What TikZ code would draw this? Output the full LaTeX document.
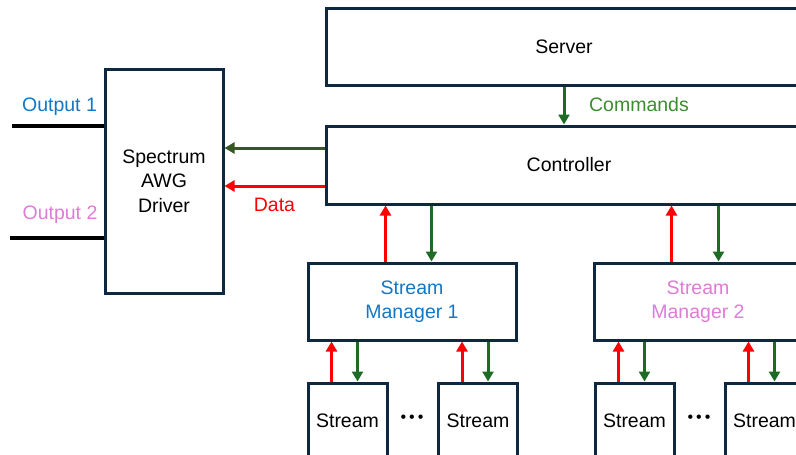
\documentclass[tikz,border=0pt]{standalone}
\usepackage{fontspec}
\setmainfont{Liberation Sans}
\usetikzlibrary{arrows.meta,calc}
\definecolor{boxc}{HTML}{0E2841}
\definecolor{dgreen}{HTML}{1E6B26}
\definecolor{olive}{HTML}{375623}
\definecolor{cmdgreen}{HTML}{3C8D2F}
\definecolor{myblue}{HTML}{1277C6}
\definecolor{mypink}{HTML}{E07BD6}
\definecolor{myred}{HTML}{FF0000}
\tikzset{
  box/.style={draw=boxc, line width=3pt, fill=white, inner sep=0pt, align=center,
    font=\fontsize{19.5}{24.5}\selectfont},
  lbl/.style={inner sep=0pt, font=\fontsize{19.5}{24.5}\selectfont},
  upar/.style={draw=myred, line width=3pt, -{Triangle[length=10pt,width=11pt]}},
  dnar/.style={draw=dgreen, line width=3pt, -{Triangle[length=10pt,width=11pt]}},
  outl/.style={draw=black, line width=3.2pt},
  dots/.style={inner sep=0pt, font=\fontsize{16}{16}\selectfont}
}
\begin{document}
\begin{tikzpicture}[x=1pt,y=-1pt]
\useasboundingbox (0,0) rectangle (796,455);
\clip (0,0) rectangle (796,455);
% main boxes
\node[box, minimum width=476pt, minimum height=77pt] (server) at (564,46.5) {Server};
\node[box, minimum width=486pt, minimum height=78pt] (ctrl) at (569,165) {Controller};
\node[box, minimum width=118pt, minimum height=224pt] (spec) at (164,181) {Spectrum\\AWG\\Driver};
\node[box, minimum width=208pt, minimum height=77pt, text=myblue] (sm1) at (412,301.5) {Stream\\Manager 1};
\node[box, minimum width=208pt, minimum height=77pt, text=mypink] (sm2) at (698,301.5) {Stream\\Manager 2};
% streams
\node[box, minimum width=79pt, minimum height=78pt] (s1) at (347.5,422) {\raisebox{3.5pt}{Stream}};
\node[box, minimum width=79pt, minimum height=78pt] (s2) at (478,422) {\raisebox{3.5pt}{Stream}};
\node[box, minimum width=79pt, minimum height=78pt] (s3) at (634.5,422) {\raisebox{3.5pt}{Stream}};
\node[box, minimum width=79pt, minimum height=78pt] (s4) at (764.5,422) {\raisebox{3.5pt}{Stream}};
\node[dots] (d1) at (412,419) {\textbullet\kern3pt\textbullet\kern3pt\textbullet};
\node[dots] (d2) at (699,419) {\textbullet\kern3pt\textbullet\kern3pt\textbullet};
% labels
\node[lbl, text=cmdgreen] (cmd) at (639,105) {Commands};
\node[lbl, text=myred] (data) at (274.5,205) {Data};
\node[lbl, text=myblue] (out1) at (59.5,107) {Output 1};
\node[lbl, text=mypink] (out2) at (60,215) {Output 2};
% outputs
\coordinate (o1) at (12,126);
\coordinate (o2) at (10,238);
\draw[outl] (o1) -- (spec.west |- o1);
\draw[outl] (o2) -- (spec.west |- o2);
% server -> controller
\coordinate (cx) at (564,0);
\draw[dnar] (server.south -| cx) -- (ctrl.north -| cx);
% controller -> spectrum
\coordinate (ga) at (0,148);
\coordinate (ra) at (0,186);
\draw[dnar, draw=olive] (ctrl.west |- ga) -- (spec.east |- ga);
\draw[upar] (ctrl.west |- ra) -- (spec.east |- ra);
% controller <-> stream managers
\draw[upar] ([xshift=79pt]sm1.north west) -- ([xshift=79pt]sm1.north west |- ctrl.south);
\draw[dnar] ([xshift=125pt]sm1.north west |- ctrl.south) -- ([xshift=125pt]sm1.north west);
\draw[upar] ([xshift=79pt]sm2.north west) -- ([xshift=79pt]sm2.north west |- ctrl.south);
\draw[dnar] ([xshift=126pt]sm2.north west |- ctrl.south) -- ([xshift=126pt]sm2.north west);
% stream managers <-> streams
\foreach \s/\m in {s1/sm1,s2/sm1,s3/sm2,s4/sm2}{
  \draw[upar] ([xshift=25pt]\s.north west) -- ([xshift=25pt]\s.north west |- \m.south);
  \draw[dnar] ([xshift=51pt]\s.north west |- \m.south) -- ([xshift=51pt]\s.north west);
}
\end{tikzpicture}
\end{document}
